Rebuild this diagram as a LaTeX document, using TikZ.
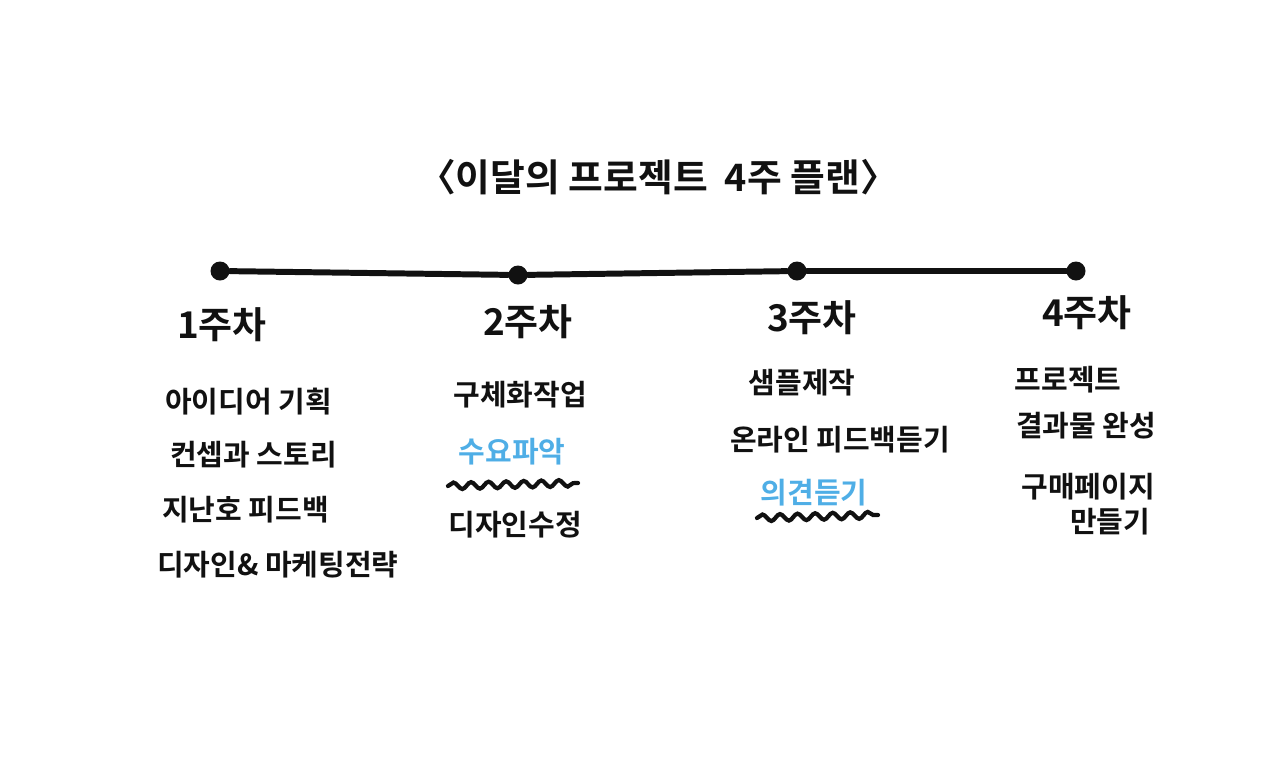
\documentclass[tikz,border=0pt]{standalone}
\usepackage{fontspec}
\setmainfont{Noto Sans CJK KR}[BoldFont={Noto Sans CJK KR Bold}]
\usepackage{xcolor}
\usetikzlibrary{positioning, decorations.pathmorphing}
\definecolor{plan-ink}{HTML}{111111}
\definecolor{plan-blue}{HTML}{4FAEE6}

\begin{document}
\begin{tikzpicture}[
    x=0.02cm, y=-0.02cm,
    dot/.style={circle, fill=plan-ink, inner sep=0pt, minimum size=0.38cm},
    week/.style={font=\bfseries\fontsize{21}{24}\selectfont, text=plan-ink},
    item/.style={font=\bfseries\fontsize{16.5}{19}\selectfont, text=plan-ink, inner sep=1pt},
    hot/.style={item, text=plan-blue},
    wave/.style={draw=plan-ink, line width=2.4pt, line cap=round,
                 decorate, decoration={snake, amplitude=1.9pt, segment length=10pt}},
]
    \useasboundingbox (0,0) rectangle (1280,768);

    \node[font=\bfseries\fontsize{21.5}{24}\selectfont, text=plan-ink] (title) at (658,177) {〈이달의 프로젝트 \ 4주 플랜〉};

    % timeline
    \node[dot] (w1) at (220,271) {};
    \node[dot] (w2) at (518,275) {};
    \node[dot] (w3) at (797,271) {};
    \node[dot] (w4) at (1076,271) {};
    \draw[plan-ink, line width=3.4pt, line cap=round] (w1) -- (w2) -- (w3) -- (w4);

    \node[week] (l1) at (222,325) {1주차};
    \node[week] (l2) at (528,322) {2주차};
    \node[week] (l3) at (812,318) {3주차};
    \node[week] (l4) at (1087,313) {4주차};

    % week 1
    \node[item, anchor=west] (a1) at (163,402) {아이디어 기획};
    \node[item, anchor=west] (a2) at (168,455) {컨셉과 스토리};
    \node[item, anchor=west] (a3) at (160,510) {지난호 피드백};
    \node[item, anchor=west] (a4) at (155,565) {디자인\& 마케팅전략};

    % week 2
    \node[item] (b1) at (520,395) {구체화작업};
    \node[hot] (b2) at (512,452) {수요파악};
    \node[item] (b3) at (515,525) {디자인수정};
    \draw[wave] (448,486) -- (578,483);

    % week 3
    \node[item] (c1) at (802,383) {샘플제작};
    \node[item] (c2) at (840,440) {온라인 피드백듣기};
    \node[hot] (c3) at (814,493) {의견듣기};
    \draw[wave] (757,518) -- (878,515);

    % week 4
    \node[item] (d1) at (1068,380) {프로젝트};
    \node[item] (d2) at (1086,426) {결과물 완성};
    \node[item] (d3) at (1088,487) {구매페이지};
    \node[item] (d4) at (1110,522) {만들기};
\end{tikzpicture}
\end{document}
